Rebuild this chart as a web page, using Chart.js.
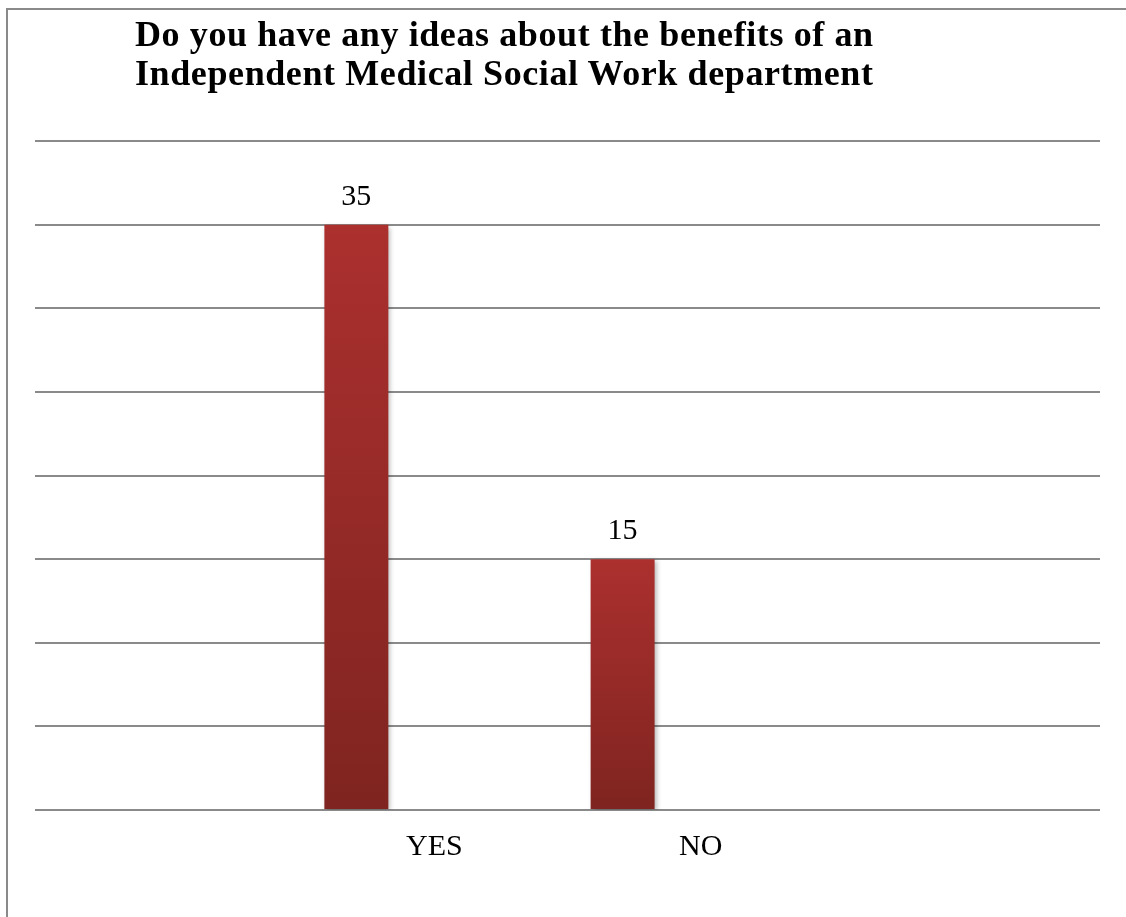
<!DOCTYPE html>
<html lang="en">
<head>
    <meta charset="UTF-8">
    <title>Medical Social Work survey</title>
    <script src="https://cdn.jsdelivr.net/npm/chart.js"></script>
    <style>
        body, html {
            margin: 0;
            padding: 0;
            width: 1126px;
            height: 917px;
            overflow: hidden;
            background: #ffffff;
            font-family: 'Liberation Serif', 'Times New Roman', serif;
        }
        .frame {
            position: absolute;
            left: 6px;
            top: 8px;
            width: 1300px;
            height: 1100px;
            border: 2px solid #8a8a8a;
        }
        .chart-title {
            position: absolute;
            left: 135px;
            top: 15px;
            margin: 0;
            font-size: 36px;
            line-height: 39px;
            letter-spacing: 0.6px;
            font-weight: bold;
            color: #000;
            white-space: nowrap;
            z-index: 2;
        }
        #chart {
            position: absolute;
            left: 0;
            top: 0;
        }
    </style>
</head>
<body>
    <div class="frame"></div>
    <canvas id="chart" width="1126" height="917"></canvas>
    <div class="chart-title">Do you have any ideas about the benefits of an<br>Independent Medical Social Work department</div>
    <script>
        // categories (blank slots on each side as in the source sheet)
        const categories = ['', 'YES', 'NO', ''];
        const answers = [null, 35, 15, null];
        const emptySeries = [null, null, null, null];
        const yTicks = { min: 0, max: 40, step: 5 };

        const serif = "'Liberation Serif', 'Times New Roman', serif";

        // vertical red gradient for each bar, from its top to the baseline
        function barGradient(context) {
            const chart = context.chart;
            const y = chart.scales.y;
            const v = context.raw;
            if (!y || v == null) return '#9a2b29';
            const top = y.getPixelForValue(v);
            const bottom = y.getPixelForValue(0);
            const g = chart.ctx.createLinearGradient(0, top, 0, bottom);
            g.addColorStop(0, '#ab302e');
            g.addColorStop(1, '#7f2420');
            return g;
        }

        const barShadow = {
            id: 'barShadow',
            beforeDatasetsDraw(chart) {
                const ctx = chart.ctx;
                ctx.save();
                ctx.shadowColor = 'rgba(0, 0, 0, 0.3)';
                ctx.shadowBlur = 5;
                ctx.shadowOffsetX = 2;
                ctx.shadowOffsetY = 2;
            },
            afterDatasetsDraw(chart) {
                chart.ctx.restore();
                // value labels above the bars
                const ctx = chart.ctx;
                const meta = chart.getDatasetMeta(0);
                ctx.save();
                ctx.font = '30px ' + serif;
                ctx.fillStyle = '#000';
                ctx.textAlign = 'center';
                ctx.textBaseline = 'middle';
                meta.data.forEach((bar, i) => {
                    const v = answers[i];
                    if (v == null) return;
                    ctx.fillText(String(v), bar.x, bar.y - 28);
                });
                ctx.restore();
            }
        };

        new Chart(document.getElementById('chart'), {
            type: 'bar',
            data: {
                labels: categories,
                datasets: [
                    { label: 'Responses', data: answers, backgroundColor: barGradient },
                    { label: 'Series 2', data: emptySeries },
                    { label: 'Series 3', data: emptySeries }
                ]
            },
            options: {
                responsive: false,
                animation: false,
                layout: { padding: { left: 35, right: 26, top: 141, bottom: 0 } },
                datasets: {
                    bar: { categoryPercentage: 0.879, barPercentage: 0.82 }
                },
                plugins: {
                    legend: { display: false },
                    title: { display: false },
                    tooltip: { enabled: false }
                },
                scales: {
                    x: {
                        grid: { display: false, drawTicks: false },
                        border: { display: false },
                        ticks: {
                            color: '#000',
                            font: { family: serif, size: 30 },
                            padding: 19,
                            maxRotation: 0,
                            autoSkip: false
                        },
                        afterFit: s => { s.height = 107; }
                    },
                    y: {
                        min: yTicks.min,
                        max: yTicks.max,
                        ticks: { display: false, stepSize: yTicks.step },
                        grid: { color: '#8a8a8a', lineWidth: 2, drawTicks: false },
                        border: { display: false },
                        afterFit: s => { s.width = 0; }
                    }
                }
            },
            plugins: [barShadow]
        });
    </script>
</body>
</html>
